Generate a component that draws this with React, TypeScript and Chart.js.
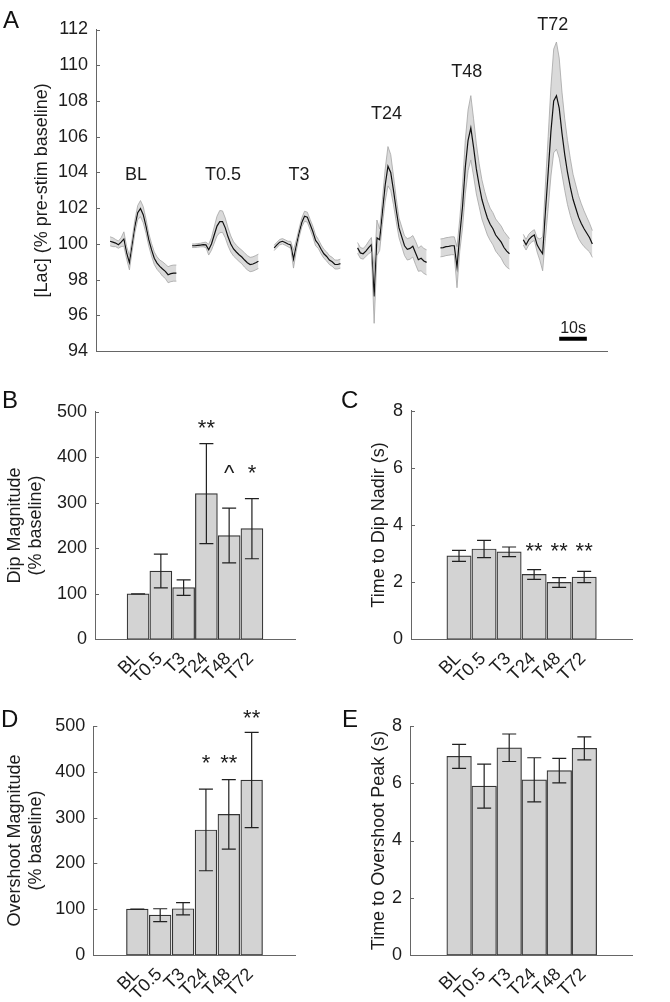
import React, { useEffect, useRef } from 'react';
import { Chart, registerables } from 'chart.js';

Chart.register(...registerables);

const FONT = "'Liberation Sans', Arial, Helvetica, sans-serif";
const TEXT = '#1c1c1c';
const AXIS = '#666666';
const BAR_FILL = '#d3d3d3';
const BAR_EDGE = '#333333';

// ---------------- Panel A: lactate traces (mean and SEM, 1 s samples) ----------------
const traceNames = ['BL', 'T0.5', 'T3', 'T24', 'T48', 'T72'];
const traceStart = [5.1, 34.8, 64.5, 94.7, 124.7, 154.7]; // seconds on the concatenated time axis

const blMean = [100.15, 100.1, 100.05, 99.96, 100.1, 100.28, 99.5, 98.95, 99.96, 101.0, 101.75, 101.98, 101.64, 101.0, 100.24, 99.68, 99.2, 98.93, 98.75, 98.6, 98.47, 98.28, 98.34, 98.37, 98.37];
const blSem = [0.25, 0.25, 0.2, 0.2, 0.25, 0.4, 0.35, 0.4, 0.35, 0.35, 0.4, 0.45, 0.45, 0.4, 0.35, 0.35, 0.35, 0.35, 0.35, 0.4, 0.4, 0.45, 0.45, 0.45, 0.45];

const t05Mean = [99.9, 99.9, 99.92, 99.94, 99.96, 99.95, 99.68, 100.0, 100.5, 101.0, 101.25, 101.25, 100.9, 100.4, 100.0, 99.72, 99.55, 99.4, 99.27, 99.1, 98.95, 98.85, 98.88, 98.95, 99.03];
const t05Sem = [0.1, 0.1, 0.1, 0.1, 0.12, 0.15, 0.3, 0.35, 0.45, 0.55, 0.62, 0.6, 0.55, 0.5, 0.45, 0.4, 0.38, 0.38, 0.38, 0.4, 0.4, 0.4, 0.4, 0.4, 0.4];

const t3Mean = [99.78, 99.95, 100.1, 100.15, 100.08, 100.0, 99.95, 99.15, 99.9, 100.6, 101.2, 101.55, 101.5, 101.1, 100.7, 100.2, 100.0, 99.7, 99.45, 99.3, 99.1, 99.0, 98.85, 98.85, 98.9];
const t3Sem = [0.15, 0.15, 0.15, 0.15, 0.15, 0.15, 0.2, 0.5, 0.3, 0.25, 0.25, 0.28, 0.28, 0.28, 0.3, 0.3, 0.25, 0.25, 0.25, 0.25, 0.25, 0.25, 0.25, 0.25, 0.25];

const t24Mean = [99.78, 99.5, 99.45, 99.6, 99.8, 99.96, 97.06, 100.34, 100.24, 101.8, 103.3, 104.35, 104.0, 103.0, 101.9, 100.9, 100.4, 99.9, 99.7, 99.75, 99.87, 99.5, 99.12, 99.2, 99.05, 98.97];
const t24Sem = [0.3, 0.3, 0.3, 0.3, 0.35, 0.4, 1.5, 1.0, 0.6, 0.7, 0.9, 1.1, 1.0, 0.8, 0.65, 0.55, 0.55, 0.55, 0.6, 0.6, 0.6, 0.65, 0.65, 0.7, 0.7, 0.7];

const t48Mean = [99.78, 99.8, 99.85, 99.87, 99.9, 99.9, 98.7, 100.5, 102.1, 104.3, 105.8, 106.5, 105.4, 104.2, 103.3, 102.5, 101.95, 101.45, 101.1, 100.85, 100.5, 100.3, 100.1, 99.8, 99.6, 99.45];
const t48Sem = [0.5, 0.5, 0.5, 0.5, 0.5, 0.5, 1.15, 0.9, 1.2, 1.5, 1.7, 1.8, 1.6, 1.4, 1.2, 1.1, 1.0, 0.95, 0.9, 0.9, 0.9, 0.9, 0.9, 0.9, 0.9, 0.85];

const t72Mean = [100.24, 99.96, 100.25, 100.4, 100.5, 99.95, 99.68, 99.45, 101.8, 104.0, 106.3, 108.0, 108.3, 107.6, 106.2, 105.0, 104.0, 103.2, 102.5, 102.0, 101.5, 101.15, 100.85, 100.6, 100.35, 100.0];
const t72Sem = [0.3, 0.3, 0.3, 0.3, 0.3, 0.4, 0.6, 0.95, 1.5, 2.0, 2.5, 2.9, 3.0, 2.8, 2.3, 2.0, 1.8, 1.6, 1.4, 1.3, 1.2, 1.1, 1.0, 0.9, 0.8, 0.75];

const traceMeans = [blMean, t05Mean, t3Mean, t24Mean, t48Mean, t72Mean];
const traceSems = [blSem, t05Sem, t3Sem, t24Sem, t48Sem, t72Sem];
const traceLabelDx = [9.4, 11.2, 9.0, 10.5, 9.5, 10.7];
const traceLabelY = [103.56, 103.56, 103.56, 106.97, 109.37, 111.98];
const lacMin = 94;
const lacMax = 112;
const lacStep = 2;
const timeMax = 185;
const scaleBarStart = 167.7;
const scaleBarLen = 10;
const scaleBarY = 94.7;

// ---------------- Panels B-E: bar charts (mean and SEM) ----------------
const groups = ['BL', 'T0.5', 'T3', 'T24', 'T48', 'T72'];

const dipMag = [100, 150, 113.5, 320, 228, 243];
const dipMagSem = [0, 37, 17, 110, 60, 66];
const dipMagSig = ['', '', '', '**', '^', '*'];
const dipMagSigY = [0, 0, 0, 449.5, 351, 351];

const dipTime = [2.92, 3.16, 3.06, 2.27, 1.99, 2.18];
const dipTimeSem = [0.19, 0.3, 0.17, 0.17, 0.17, 0.2];
const dipTimeSig = ['', '', '', '**', '**', '**'];
const dipTimeSigY = [0, 0, 0, 2.85, 2.85, 2.85];

const overMag = [100, 87, 101, 273, 307, 382];
const overMagSem = [0, 14, 13.5, 89, 76, 104];
const overMagSig = ['', '', '', '*', '**', '**'];
const overMagSigY = [0, 0, 0, 403, 403, 502.6];

const overTime = [6.94, 5.9, 7.24, 6.12, 6.44, 7.22];
const overTimeSem = [0.42, 0.77, 0.48, 0.77, 0.43, 0.4];
const overTimeSig = ['', '', '', '', '', ''];
const overTimeSigY = [0, 0, 0, 0, 0, 0];

function inwardTicks(len: number) {
  return {
    id: 'inwardTicks',
    afterDraw(chart: any) {
      const ys = chart.scales.y;
      const ctx = chart.ctx;
      ctx.save();
      ctx.strokeStyle = AXIS;
      ctx.lineWidth = 1;
      ys.ticks.forEach((t: any) => {
        const py = Math.round(ys.getPixelForValue(t.value)) + 0.5;
        ctx.beginPath();
        ctx.moveTo(chart.chartArea.left, py);
        ctx.lineTo(chart.chartArea.left + len, py);
        ctx.stroke();
      });
      ctx.restore();
    },
  };
}

function TracePanel() {
  const ref = useRef<HTMLCanvasElement>(null);
  useEffect(() => {
    const datasets: any[] = [];
    traceMeans.forEach((mean, k) => {
      const sem = traceSems[k];
      datasets.push({
        data: mean.map((m, i) => ({ x: traceStart[k] + i, y: m + sem[i] })),
        borderColor: '#a4a4a4', borderWidth: 0.8, pointRadius: 0, fill: false,
      });
      datasets.push({
        data: mean.map((m, i) => ({ x: traceStart[k] + i, y: m - sem[i] })),
        borderColor: '#a4a4a4', borderWidth: 0.8, pointRadius: 0,
        fill: { target: datasets.length - 1 }, backgroundColor: '#dadada',
      });
      datasets.push({
        data: mean.map((m, i) => ({ x: traceStart[k] + i, y: m })),
        borderColor: '#111111', borderWidth: 1.2, pointRadius: 0, fill: false,
      });
    });
    datasets.push({
      data: [{ x: scaleBarStart, y: scaleBarY }, { x: scaleBarStart + scaleBarLen, y: scaleBarY }],
      borderColor: '#000000', borderWidth: 4, pointRadius: 0, fill: false, borderCapStyle: 'butt',
    });

    const textPlugin = {
      id: 'traceText',
      afterDatasetsDraw(chart: any) {
        const { ctx } = chart;
        const xs = chart.scales.x;
        const ys = chart.scales.y;
        ctx.save();
        ctx.fillStyle = TEXT;
        ctx.font = `18px ${FONT}`;
        ctx.textAlign = 'center';
        ctx.textBaseline = 'alphabetic';
        traceNames.forEach((n, k) => {
          ctx.fillText(n, xs.getPixelForValue(traceStart[k] + traceLabelDx[k]), ys.getPixelForValue(traceLabelY[k]));
        });
        ctx.font = `16px ${FONT}`;
        ctx.fillText('10s', xs.getPixelForValue(scaleBarStart + scaleBarLen / 2), ys.getPixelForValue(scaleBarY) - 6);
        ctx.restore();
      },
    };

    const chart = new Chart(ref.current as HTMLCanvasElement, {
      type: 'line',
      data: { datasets },
      options: {
        animation: false,
        responsive: false,
        maintainAspectRatio: false,
        layout: { padding: { left: 27, top: 29.5, right: 63, bottom: 18.3 } },
        plugins: { legend: { display: false }, tooltip: { enabled: false }, filler: { drawTime: 'beforeDatasetsDraw' } as any },
        scales: {
          x: {
            type: 'linear', min: 0, max: timeMax,
            ticks: { display: false },
            grid: { display: false, drawTicks: false },
            border: { color: AXIS, width: 1 },
            afterFit: (s: any) => { s.height = 0; },
          },
          y: {
            min: lacMin, max: lacMax,
            ticks: { stepSize: lacStep, padding: 8, color: TEXT, font: { family: FONT, size: 18 } },
            grid: { display: false, drawTicks: false },
            border: { color: AXIS, width: 1 },
            title: { display: true, text: '[Lac] (% pre-stim baseline)', color: TEXT, font: { family: FONT, size: 18 }, padding: { top: 4, bottom: 0 } },
            afterFit: (s: any) => { s.width = 69; },
          },
        },
      } as any,
      plugins: [textPlugin, inwardTicks(4)],
    });
    return () => chart.destroy();
  }, []);
  return <canvas ref={ref} width={670} height={370} style={{ position: 'absolute', left: 0, top: 0, width: 670, height: 370 }} />;
}

type BarProps = {
  left: number; top: number; width: number; height: number;
  padLeft: number; yWidth: number; areaTop: number; areaRight: number; areaBottom: number;
  xMin: number; xMax: number; barWidth: number;
  yMax: number; yStep: number; title: string | string[];
  values: number[]; sem: number[]; sig: string[]; sigY: number[];
};

function BarPanel(p: BarProps) {
  const ref = useRef<HTMLCanvasElement>(null);
  useEffect(() => {
    const errPlugin = {
      id: 'errbars',
      afterDatasetsDraw(chart: any) {
        const { ctx } = chart;
        const xs = chart.scales.x;
        const ys = chart.scales.y;
        ctx.save();
        ctx.strokeStyle = '#202020';
        ctx.lineWidth = 1.2;
        p.values.forEach((v, i) => {
          const px = xs.getPixelForValue(i);
          const hi = ys.getPixelForValue(v + p.sem[i]);
          const lo = ys.getPixelForValue(v - p.sem[i]);
          ctx.beginPath();
          ctx.moveTo(px, hi); ctx.lineTo(px, lo);
          ctx.moveTo(px - 7, hi); ctx.lineTo(px + 7, hi);
          ctx.moveTo(px - 7, lo); ctx.lineTo(px + 7, lo);
          ctx.stroke();
        });
        ctx.fillStyle = TEXT;
        ctx.font = `22px ${FONT}`;
        ctx.textAlign = 'center';
        ctx.textBaseline = 'alphabetic';
        p.sig.forEach((s, i) => {
          if (s) ctx.fillText(s, xs.getPixelForValue(i), ys.getPixelForValue(p.sigY[i]));
        });
        ctx.restore();
      },
    };
    const chart = new Chart(ref.current as HTMLCanvasElement, {
      type: 'bar',
      data: {
        datasets: [{
          data: p.values.map((v, i) => ({ x: i, y: v })),
          backgroundColor: BAR_FILL,
          borderColor: BAR_EDGE,
          borderWidth: 1.2,
          borderSkipped: false,
          barThickness: p.barWidth,
        }],
      },
      options: {
        animation: false,
        responsive: false,
        maintainAspectRatio: false,
        layout: { padding: { left: p.padLeft, top: p.areaTop, right: p.width - p.areaRight, bottom: 0 } },
        plugins: { legend: { display: false }, tooltip: { enabled: false } },
        scales: {
          x: {
            type: 'linear', min: p.xMin, max: p.xMax,
            afterBuildTicks: (s: any) => { s.ticks = groups.map((_, i) => ({ value: i })); },
            afterFit: (s: any) => { s.height = p.height - p.areaBottom; },
            ticks: {
              autoSkip: false, minRotation: 45, maxRotation: 45, padding: 9, labelOffset: -1,
              color: TEXT, font: { family: FONT, size: 18 },
              callback: (v: any) => groups[Math.round(Number(v))] ?? '',
            },
            grid: { display: false, drawTicks: false },
            border: { color: AXIS, width: 1 },
          },
          y: {
            min: 0, max: p.yMax,
            ticks: { stepSize: p.yStep, padding: 8, color: TEXT, font: { family: FONT, size: 18 } },
            grid: { display: false, drawTicks: false },
            border: { color: AXIS, width: 1 },
            title: { display: true, text: p.title, color: TEXT, font: { family: FONT, size: 18 }, padding: { top: 4, bottom: 0 } },
            afterFit: (s: any) => { s.width = p.yWidth; },
          },
        },
      } as any,
      plugins: [errPlugin, inwardTicks(4)],
    });
    return () => chart.destroy();
  }, []);
  return <canvas ref={ref} width={p.width} height={p.height} style={{ position: 'absolute', left: p.left, top: p.top, width: p.width, height: p.height }} />;
}

const letterStyle = (left: number, top: number): React.CSSProperties => ({
  position: 'absolute', left, top, fontFamily: FONT, fontSize: 24, lineHeight: '24px', color: '#111',
});

export default function App() {
  return (
    <div style={{ position: 'absolute', left: 0, top: 0, width: 670, height: 1002, background: '#fff', overflow: 'hidden' }}>
      <TracePanel />
      <BarPanel left={0} top={370} width={335} height={310} padLeft={0} yWidth={95} areaTop={41.7} areaRight={295} areaBottom={269.3}
        xMin={-1.16} xMax={6.16} barWidth={22} yMax={500} yStep={100} title={['Dip Magnitude', '(% baseline)']}
        values={dipMag} sem={dipMagSem} sig={dipMagSig} sigY={dipMagSigY} />
      <BarPanel left={335} top={370} width={335} height={310} padLeft={29} yWidth={47} areaTop={40.7} areaRight={297.7} areaBottom={269.3}
        xMin={-1.18} xMax={6.2} barWidth={24.3} yMax={8} yStep={2} title={'Time to Dip Nadir (s)'}
        values={dipTime} sem={dipTimeSem} sig={dipTimeSig} sigY={dipTimeSigY} />
      <BarPanel left={0} top={680} width={335} height={322} padLeft={0} yWidth={93.3} areaTop={46} areaRight={295} areaBottom={275}
        xMin={-1.19} xMax={6.16} barWidth={21.7} yMax={500} yStep={100} title={['Overshoot Magnitude', '(% baseline)']}
        values={overMag} sem={overMagSem} sig={overMagSig} sigY={overMagSigY} />
      <BarPanel left={335} top={680} width={335} height={322} padLeft={29} yWidth={46} areaTop={46} areaRight={297.7} areaBottom={275}
        xMin={-1.22} xMax={6.19} barWidth={24.6} yMax={8} yStep={2} title={'Time to Overshoot Peak (s)'}
        values={overTime} sem={overTimeSem} sig={overTimeSig} sigY={overTimeSigY} />
      <div style={letterStyle(3, 8)}>A</div>
      <div style={letterStyle(2, 388)}>B</div>
      <div style={letterStyle(341, 388)}>C</div>
      <div style={letterStyle(1, 707)}>D</div>
      <div style={letterStyle(342, 707)}>E</div>
    </div>
  );
}
